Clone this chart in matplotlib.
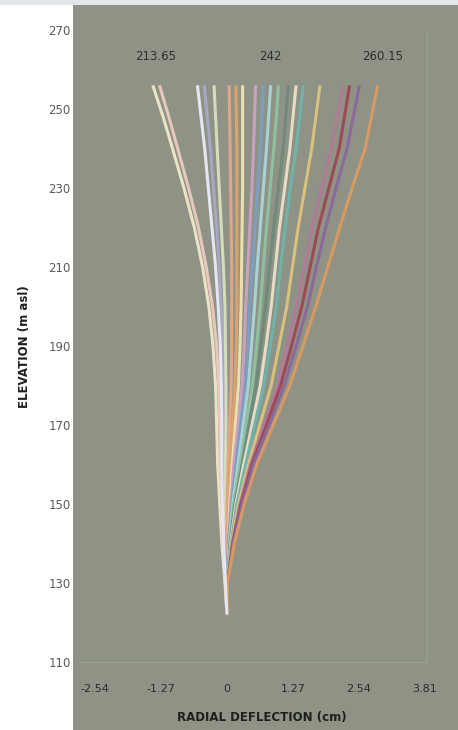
"""
Radial deflection profiles along the dam crest elevation.
"""

import matplotlib.pyplot as plt
from matplotlib.patches import Rectangle

# elevations (m asl) at which deflections were sampled
elevation = [256, 248, 240, 230, 220, 210, 200, 190, 180, 170, 160, 150, 140, 130, 122]

# radial deflection (cm) for each load case, top to base
deflections = [
    [-1.43, -1.23, -1.05, -0.83, -0.63, -0.47, -0.35, -0.27, -0.22, -0.20, -0.18, -0.14, -0.10, -0.04, 0.0],
    [-1.30, -1.12, -0.95, -0.74, -0.55, -0.40, -0.28, -0.20, -0.16, -0.14, -0.13, -0.10, -0.08, -0.03, 0.0],
    [-0.57, -0.50, -0.43, -0.36, -0.29, -0.22, -0.17, -0.13, -0.11, -0.10, -0.10, -0.09, -0.07, -0.03, 0.0],
    [-0.44, -0.38, -0.32, -0.26, -0.20, -0.15, -0.11, -0.08, -0.06, -0.06, -0.06, -0.05, -0.04, -0.02, 0.0],
    [-0.25, -0.22, -0.19, -0.15, -0.11, -0.07, -0.04, -0.03, -0.02, -0.02, -0.03, -0.03, -0.03, -0.02, 0.0],
    [0.04, 0.05, 0.06, 0.07, 0.08, 0.09, 0.09, 0.09, 0.08, 0.05, 0.02, 0.00, -0.01, -0.01, 0.0],
    [0.17, 0.18, 0.19, 0.19, 0.19, 0.19, 0.19, 0.18, 0.15, 0.11, 0.06, 0.03, 0.01, 0.00, 0.0],
    [0.30, 0.30, 0.30, 0.30, 0.29, 0.28, 0.27, 0.25, 0.22, 0.16, 0.10, 0.05, 0.02, 0.00, 0.0],
    [0.55, 0.53, 0.51, 0.48, 0.44, 0.40, 0.36, 0.33, 0.29, 0.21, 0.13, 0.07, 0.02, 0.00, 0.0],
    [0.70, 0.67, 0.64, 0.59, 0.54, 0.49, 0.44, 0.40, 0.35, 0.26, 0.17, 0.09, 0.03, 0.00, 0.0],
    [0.84, 0.80, 0.76, 0.70, 0.64, 0.58, 0.53, 0.47, 0.41, 0.31, 0.21, 0.11, 0.04, 0.00, 0.0],
    [0.99, 0.95, 0.90, 0.83, 0.76, 0.70, 0.64, 0.57, 0.49, 0.37, 0.25, 0.13, 0.05, 0.00, 0.0],
    [1.18, 1.13, 1.08, 0.99, 0.90, 0.82, 0.74, 0.65, 0.56, 0.42, 0.29, 0.15, 0.06, 0.01, 0.0],
    [1.33, 1.27, 1.21, 1.11, 1.01, 0.93, 0.85, 0.75, 0.64, 0.48, 0.32, 0.17, 0.07, 0.01, 0.0],
    [1.47, 1.40, 1.33, 1.22, 1.12, 1.03, 0.95, 0.83, 0.71, 0.53, 0.36, 0.19, 0.08, 0.01, 0.0],
    [1.79, 1.71, 1.63, 1.50, 1.37, 1.26, 1.15, 1.00, 0.85, 0.63, 0.41, 0.22, 0.09, 0.01, 0.0],
    [2.23, 2.12, 2.01, 1.82, 1.64, 1.49, 1.34, 1.16, 0.97, 0.71, 0.45, 0.25, 0.10, 0.01, 0.0],
    [2.36, 2.26, 2.16, 1.96, 1.76, 1.60, 1.44, 1.24, 1.03, 0.76, 0.48, 0.27, 0.11, 0.01, 0.0],
    [2.55, 2.43, 2.31, 2.10, 1.90, 1.72, 1.55, 1.33, 1.10, 0.81, 0.51, 0.29, 0.12, 0.01, 0.0],
    [2.90, 2.78, 2.66, 2.41, 2.17, 1.94, 1.71, 1.46, 1.21, 0.89, 0.57, 0.33, 0.14, 0.01, 0.0],
]
colors = ['#ece3c6', '#e8c8bd', '#e6e6f2', '#a8a7c4', '#d5dcbc',
          '#e3a586', '#d9a36e', '#eadfb0', '#c9a2c0', '#7e9ec0',
          '#a9d2d6', '#8fc0a0', '#6f8a78', '#e6dcc8', '#6fb3aa',
          '#d8c27e', '#b07a98', '#9c4a56', '#8a6a9a', '#d99a62']

# reservoir levels written above the profiles
level_labels = ['213.65', '242', '260.15']
level_x = [-1.38, 0.83, 3.0]
level_y = 263.2

xticks = [-2.54, -1.27, 0, 1.27, 2.54, 3.81]
xtick_labels = ['-2.54', '-1.27', '0', '1.27', '2.54', '3.81']
yticks = list(range(110, 271, 20))

bg = '#8e9386'

fig = plt.figure(figsize=(4.58, 7.3), dpi=100)
fig.patch.set_facecolor('white')
fig.patches.append(Rectangle((73 / 458, 0), 1, 725 / 730, transform=fig.transFigure,
                             facecolor=bg, edgecolor='none', zorder=-2))
fig.patches.append(Rectangle((0, 725 / 730), 1, 5 / 730, transform=fig.transFigure,
                             facecolor='#e3e6e9', edgecolor='none', zorder=-2))

ax = fig.add_axes([79 / 458, 68 / 730, 348 / 458, 632 / 730])
ax.set_facecolor('none')

for i, (d, c) in enumerate(zip(deflections, colors)):
    z = 3 if i == 2 else 2
    ax.plot(d, elevation, color=c, lw=2.2, solid_capstyle='butt',
            solid_joinstyle='round', zorder=z)

for lab, x in zip(level_labels, level_x):
    ax.text(x, level_y, lab, ha='center', va='center', fontsize=8.5, color='#2e302c')

ax.set_xlim(-2.85, 3.85)
ax.set_ylim(110, 270)
ax.set_xticks(xticks)
ax.set_xticklabels(xtick_labels)
ax.set_yticks(yticks)
ax.tick_params(axis='x', length=0, pad=16, labelsize=8, labelcolor='#2a2c28')
ax.tick_params(axis='y', length=0, pad=6, labelsize=8.5, labelcolor='#5a5a5a')
for s in ax.spines.values():
    s.set_color('#999e92')
    s.set_linewidth(1.0)
ax.spines['left'].set_visible(False)
ax.spines['top'].set_visible(False)

fig.text(262 / 458, 1 - 717 / 730, 'RADIAL DEFLECTION (cm)', ha='center', va='center',
         fontsize=8.5, fontweight='bold', color='#1e201c')
fig.text(25 / 458, 1 - 347 / 730, 'ELEVATION (m asl)', ha='center', va='center',
         rotation=90, fontsize=8.5, fontweight='bold', color='#1e201c')

fig.savefig('out.png', dpi=100)
